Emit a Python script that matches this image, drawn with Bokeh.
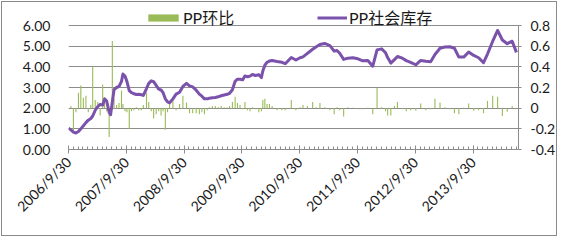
import numpy as np
import pandas as pd
from bokeh.plotting import figure
from bokeh.models import (Range1d, LinearAxis, FixedTicker, CustomJSTickFormatter,
                          PrintfTickFormatter, Legend, LegendItem, ColumnDataSource)
from bokeh.embed import file_html
from bokeh.resources import INLINE

dates = [
    "2006-09-30", "2006-10-15", "2006-10-31", "2006-11-16", "2006-12-02", "2006-12-17",
    "2007-01-02", "2007-01-18", "2007-02-02", "2007-02-18", "2007-03-02", "2007-03-18",
    "2007-04-03", "2007-04-18", "2007-05-04", "2007-05-16", "2007-05-29", "2007-06-14",
    "2007-06-23", "2007-07-04", "2007-07-15", "2007-07-31", "2007-08-15", "2007-08-31",
    "2007-09-09", "2007-09-22", "2007-10-04", "2007-10-19", "2007-11-02", "2007-11-17",
    "2007-12-03", "2007-12-18", "2008-01-03", "2008-01-16", "2008-02-05", "2008-02-19",
    "2008-03-06", "2008-03-21", "2008-04-06", "2008-04-22", "2008-05-07", "2008-05-20",
    "2008-06-03", "2008-06-17", "2008-06-30", "2008-07-21", "2008-08-10", "2008-09-01",
    "2008-09-22", "2008-10-15", "2008-11-03", "2008-11-23", "2008-12-15", "2009-01-04",
    "2009-01-20", "2009-02-05", "2009-02-23", "2009-03-08", "2009-03-27", "2009-04-15",
    "2009-05-03", "2009-05-22", "2009-06-10", "2009-06-29", "2009-07-14", "2009-08-01",
    "2009-08-18", "2009-09-02", "2009-09-18", "2009-10-04", "2009-10-19", "2009-11-04",
    "2009-11-20", "2009-12-05", "2009-12-24", "2010-01-15", "2010-01-31", "2010-02-09",
    "2010-02-22", "2010-03-08", "2010-03-23", "2010-04-09", "2010-05-10", "2010-06-10",
    "2010-07-01", "2010-08-08", "2010-09-06", "2010-10-03", "2010-10-21", "2010-11-18",
    "2010-12-21", "2011-01-13", "2011-02-05", "2011-03-07", "2011-04-09", "2011-05-06",
    "2011-05-24", "2011-06-10", "2011-07-05", "2011-08-01", "2011-09-01", "2011-10-03",
    "2011-11-03", "2011-12-05", "2012-01-05", "2012-02-01", "2012-03-01", "2012-03-26",
    "2012-04-08", "2012-04-28", "2012-05-21", "2012-06-09", "2012-07-10", "2012-08-04",
    "2012-08-31", "2012-10-03", "2012-11-03", "2012-12-05", "2013-01-05", "2013-02-01",
    "2013-03-05", "2013-04-04", "2013-05-06", "2013-06-04", "2013-07-02", "2013-08-02",
    "2013-09-02", "2013-10-04", "2013-11-04", "2013-12-05", "2013-12-30", "2014-02-01",
    "2014-03-04", "2014-04-03", "2014-05-04", "2014-06-04", "2014-07-01",
]

pp_inventory = [
    1.03, 0.95, 0.84, 0.80, 0.87, 1.00,
    1.15, 1.30, 1.42, 1.50, 1.62, 1.90,
    2.08, 2.18, 2.15, 2.45, 2.35, 1.80,
    1.68, 2.30, 2.90, 3.00, 3.05, 3.30,
    3.65, 3.55, 3.30, 2.85, 2.75, 2.70,
    2.66, 2.67, 2.65, 2.62, 2.95, 3.20,
    3.32, 3.28, 3.10, 2.92, 2.88, 2.75,
    2.45, 2.30, 2.26, 2.45, 2.68, 2.77,
    3.05, 3.20, 3.08, 3.03, 2.87, 2.68,
    2.58, 2.45, 2.45, 2.48, 2.50, 2.52,
    2.55, 2.60, 2.64, 2.67, 2.72, 2.89,
    3.30, 3.40, 3.40, 3.37, 3.56, 3.52,
    3.55, 3.63, 3.58, 3.62, 3.48, 3.80,
    4.08, 4.22, 4.28, 4.31, 4.26, 4.22,
    4.15, 4.45, 4.33, 4.44, 4.48, 4.65,
    4.85, 4.97, 5.08, 5.13, 5.03, 4.76,
    4.79, 4.66, 4.36, 4.42, 4.44, 4.39,
    4.29, 4.31, 4.03, 4.82, 4.87, 4.68,
    4.45, 4.18, 4.35, 4.50, 4.42, 4.30,
    4.22, 4.10, 4.31, 4.27, 4.25, 4.60,
    4.90, 4.96, 4.97, 4.90, 4.47, 4.47,
    4.72, 4.55, 4.44, 4.20, 4.62, 5.24,
    5.76, 5.30, 5.12, 5.24, 4.70,
]

pp_mom = [
    0.0, 0.02, -0.22, -0.04, 0.15, 0.22,
    0.10, 0.12, -0.04, 0.03, 0.40, 0.08,
    0.06, -0.07, 0.23, 0.10, -0.03, -0.28,
    -0.05, 0.65, 0.09, 0.03, 0.05, 0.17,
    0.04, -0.03, -0.04, -0.20, -0.03, -0.02,
    0.01, -0.02, -0.02, 0.03, 0.15, 0.06,
    -0.03, -0.10, -0.06, -0.03, -0.07, -0.03,
    -0.21, -0.04, 0.07, 0.10, -0.02, 0.04,
    0.12, 0.055, -0.05, -0.05, -0.05, -0.06,
    -0.04, -0.06, -0.02, 0.01, 0.02, 0.02,
    0.01, 0.02, 0.01, 0.01, 0.02, 0.06,
    0.11, 0.05, 0.03, -0.01, 0.06, -0.02,
    -0.03, 0.01, -0.01, -0.04, -0.03, 0.08,
    0.09, 0.04, 0.04, 0.02, -0.02, -0.02,
    -0.02, 0.08, -0.02, 0.01, 0.03, 0.02,
    0.06, 0.01, 0.05, 0.01, -0.02, -0.06,
    0.01, -0.02, -0.08, 0.01, 0.005, -0.01,
    -0.01, 0.005, -0.06, 0.195, 0.01, -0.03,
    -0.07, -0.07, 0.02, 0.06, -0.01, -0.03,
    -0.02, -0.025, 0.045, -0.02, -0.01, 0.09,
    0.055, 0.01, -0.01, -0.05, -0.06, 0.005,
    0.045, -0.025, -0.02, -0.05, 0.07, 0.12,
    0.11, -0.075, -0.035, 0.02, 0.0,
]

year_ticks = ["2006-09-30", "2007-09-30", "2008-09-30", "2009-09-30",
              "2010-09-30", "2011-09-30", "2012-09-30", "2013-09-30"]
left_ticks = [0, 1, 2, 3, 4, 5, 6]
right_ticks = [-0.4, -0.2, 0, 0.2, 0.4, 0.6, 0.8]

FONT = "Lato, 'Noto Sans CJK SC', sans-serif"
TXT = "#1a1a1a"
GRID = "#8c8c8c"
GREEN = "#9bbb59"
PURPLE = "#7b52ab"

# frame geometry: the frame reaches up to hold the legend; the value
# area (0..6 / -0.4..0.8) occupies the lower 124 px of a 144 px frame
FRAME_H, VALUE_H = 144, 124
left_top = 6 * FRAME_H / VALUE_H
right_top = -0.4 + 1.2 * FRAME_H / VALUE_H


def ms(ts):
    return pd.Timestamp(ts).value / 1e6


src = ColumnDataSource(dict(date=pd.to_datetime(dates), inv=pp_inventory, mom=pp_mom))

x_start = pd.Timestamp("2006-09-30")
x_end = pd.Timestamp("2014-07-14")

p = figure(width=556, height=235, x_axis_type="datetime",
           x_range=Range1d(x_start, x_end), y_range=Range1d(0, left_top),
           output_backend="svg", toolbar_location=None,
           min_border_left=66, min_border_right=36, min_border_top=3, min_border_bottom=88)
p.styles = {"border": "1px solid #8a8a8a", "margin": "1px"}
p.outline_line_color = None
p.background_fill_color = "white"
p.extra_y_ranges = {"right": Range1d(-0.4, right_top)}

# bars (right axis) and line (left axis)
r_bar = p.vbar(x="date", top="mom", bottom=0, width=7 * 86400000, source=src,
               y_range_name="right", fill_color=GREEN, line_color=None)
r_line = p.line("date", "inv", source=src, line_color=PURPLE, line_width=3,
                line_join="round")

# x axis
major_ms = [ms(t) for t in year_ticks]
minor_ms = []
for per in pd.period_range("2006-10", "2014-07", freq="M"):
    ts = pd.Timestamp(year=per.year, month=per.month, day=min(30, per.days_in_month))
    if ts <= x_end and per.month != 9:
        minor_ms.append(ms(ts))
xa = p.xaxis[0]
xa.ticker = FixedTicker(ticks=major_ms, minor_ticks=minor_ms)
xa.formatter = CustomJSTickFormatter(code="""
const d = new Date(tick);
return d.getUTCFullYear() + '/' + (d.getUTCMonth() + 1) + '/' + d.getUTCDate();
""")
xa.major_label_orientation = np.pi / 4
xa.axis_line_color = GRID
xa.major_tick_line_color = GRID
xa.minor_tick_line_color = GRID
xa.major_tick_in = 4
xa.major_tick_out = 4
xa.minor_tick_in = 3
xa.minor_tick_out = 0
xa.major_label_standoff = 6
xa.major_label_text_font = FONT
xa.major_label_text_font_size = "14px"
xa.major_label_text_color = TXT

# left axis
ya = p.yaxis[0]
ya.ticker = FixedTicker(ticks=left_ticks)
ya.formatter = PrintfTickFormatter(format="%.2f")
ya.axis_line_color = None
ya.major_tick_line_color = None
ya.minor_tick_line_color = None
ya.major_tick_in = 0
ya.major_tick_out = 0
ya.major_label_standoff = 18
ya.major_label_text_font = FONT
ya.major_label_text_font_size = "14px"
ya.major_label_text_color = TXT

# right axis
ra = LinearAxis(y_range_name="right", ticker=FixedTicker(ticks=right_ticks),
                bounds=(-0.4, 0.8))
ra.formatter = CustomJSTickFormatter(code="""
const v = Math.round(tick * 10) / 10;
return v === 0 ? '0' : v.toFixed(1);
""")
ra.axis_line_color = GRID
ra.major_tick_line_color = GRID
ra.minor_tick_line_color = None
ra.major_tick_in = 0
ra.major_tick_out = 3
ra.major_label_standoff = 9
ra.major_label_text_font = FONT
ra.major_label_text_font_size = "14px"
ra.major_label_text_color = TXT
p.add_layout(ra, "right")

p.xgrid.visible = False
p.ygrid.ticker = FixedTicker(ticks=left_ticks)
p.ygrid.grid_line_color = GRID
p.ygrid.grid_line_width = 1


def make_legend(item, loc, gw, gh, standoff):
    lg = Legend(items=[item], orientation="horizontal", location=loc)
    lg.glyph_width = gw
    lg.glyph_height = gh
    lg.label_standoff = standoff
    lg.label_height = gh
    lg.padding = 0
    lg.margin = 0
    lg.spacing = 0
    lg.border_line_color = None
    lg.background_fill_alpha = 0
    lg.label_text_font = FONT
    lg.label_text_font_size = "16px"
    lg.label_text_color = TXT
    return lg


p.add_layout(make_legend(LegendItem(label="PP环比", renderers=[r_bar]), (76, 120), 38, 9, 1))
p.add_layout(make_legend(LegendItem(label="PP社会库存", renderers=[r_line]), (249, 120), 30, 9, 2))

open("out.html", "w").write(file_html(p, INLINE))
